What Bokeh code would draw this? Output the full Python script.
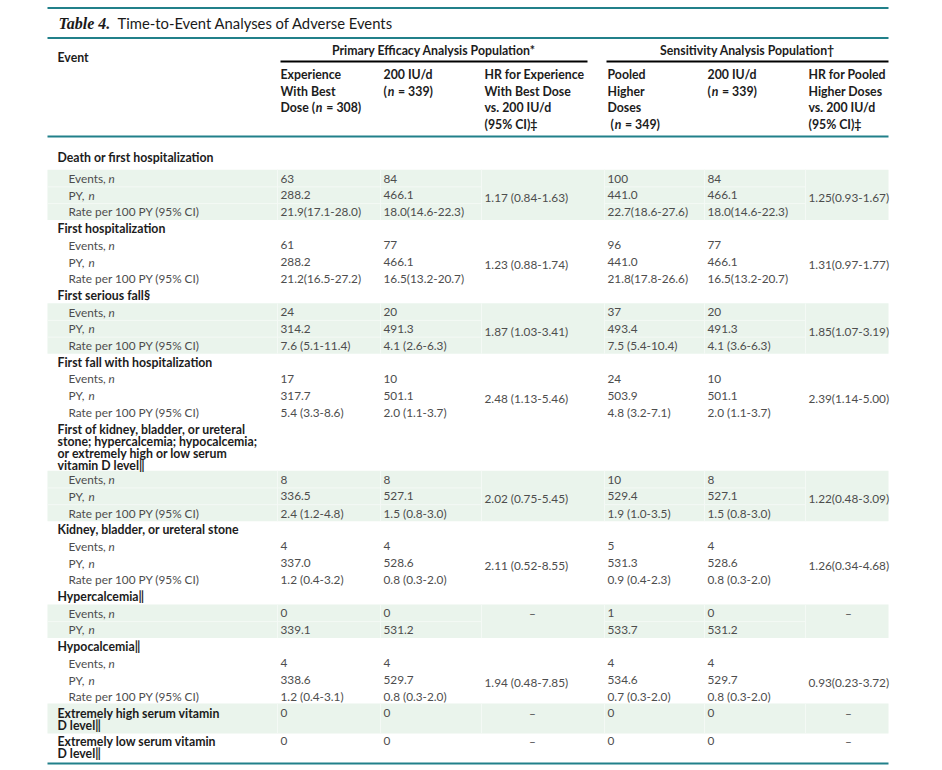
from bokeh.plotting import figure
from bokeh.models import Range1d, ColumnDataSource
from bokeh.core.properties import value
from bokeh.embed import file_html
from bokeh.resources import INLINE

# ---------------- data ----------------
title_label = "Table 4."
title_text = "Time-to-Event Analyses of Adverse Events"

event_header = "Event"
span_headers = ["Primary Efficacy Analysis Population*", "Sensitivity Analysis Population\u2020"]

group_labels = [
    ["Death or first hospitalization"],
    ["First hospitalization"],
    ["First serious fall\u00a7"],
    ["First fall with hospitalization"],
    ["First of kidney, bladder, or ureteral", "stone; hypercalcemia; hypocalcemia;",
     "or extremely high or low serum", "vitamin D level\u2016"],
    ["Kidney, bladder, or ureteral stone"],
    ["Hypercalcemia\u2016"],
    ["Hypocalcemia\u2016"],
    ["Extremely high serum vitamin", "D level\u2016"],
    ["Extremely low serum vitamin", "D level\u2016"],
]

exp_best_events = ["63", "61", "24", "17", "8", "4", "0", "4", "0", "0"]
exp_best_py = ["288.2", "288.2", "314.2", "317.7", "336.5", "337.0", "339.1", "338.6", None, None]
exp_best_rate = ["21.9(17.1-28.0)", "21.2(16.5-27.2)", "7.6 (5.1-11.4)", "5.4 (3.3-8.6)",
                 "2.4 (1.2-4.8)", "1.2 (0.4-3.2)", None, "1.2 (0.4-3.1)", None, None]

dose200_events = ["84", "77", "20", "10", "8", "4", "0", "4", "0", "0"]
dose200_py = ["466.1", "466.1", "491.3", "501.1", "527.1", "528.6", "531.2", "529.7", None, None]
dose200_rate = ["18.0(14.6-22.3)", "16.5(13.2-20.7)", "4.1 (2.6-6.3)", "2.0 (1.1-3.7)",
                "1.5 (0.8-3.0)", "0.8 (0.3-2.0)", None, "0.8 (0.3-2.0)", None, None]

hr_best = ["1.17 (0.84-1.63)", "1.23 (0.88-1.74)", "1.87 (1.03-3.41)", "2.48 (1.13-5.46)",
           "2.02 (0.75-5.45)", "2.11 (0.52-8.55)", "\u2013", "1.94 (0.48-7.85)", "\u2013", "\u2013"]

pooled_events = ["100", "96", "37", "24", "10", "5", "1", "4", "0", "0"]
pooled_py = ["441.0", "441.0", "493.4", "503.9", "529.4", "531.3", "533.7", "534.6", None, None]
pooled_rate = ["22.7(18.6-27.6)", "21.8(17.8-26.6)", "7.5 (5.4-10.4)", "4.8 (3.2-7.1)",
               "1.9 (1.0-3.5)", "0.9 (0.4-2.3)", None, "0.7 (0.3-2.0)", None, None]

sens200_events = ["84", "77", "20", "10", "8", "4", "0", "4", "0", "0"]
sens200_py = ["466.1", "466.1", "491.3", "501.1", "527.1", "528.6", "531.2", "529.7", None, None]
sens200_rate = ["18.0(14.6-22.3)", "16.5(13.2-20.7)", "4.1 (3.6-6.3)", "2.0 (1.1-3.7)",
                "1.5 (0.8-3.0)", "0.8 (0.3-2.0)", None, "0.8 (0.3-2.0)", None, None]

hr_pooled = ["1.25(0.93-1.67)", "1.31(0.97-1.77)", "1.85(1.07-3.19)", "2.39(1.14-5.00)",
             "1.22(0.48-3.09)", "1.26(0.34-4.68)", "\u2013", "0.93(0.23-3.72)", "\u2013", "\u2013"]

sub_labels = ["Events,", "PY,", "Rate per 100 PY (95% CI)"]
sub_italic = ["n", "n", None]

col_headers = [
    ["Experience", "With Best", ("Dose (", "n", "= 308)")],
    ["200 IU/d", ("(", "n", "= 339)")],
    ["HR for Experience", "With Best Dose", "vs. 200 IU/d", "(95% CI)\u2021"],
    ["Pooled", "Higher", "Doses", ("(", "n", "= 349)")],
    ["200 IU/d", ("(", "n", "= 339)")],
    ["HR for Pooled", "Higher Doses", "vs. 200 IU/d", "(95% CI)\u2021"],
]

# ---------------- style / layout ----------------
FONT = "Lato"
TEAL = "#21808a"
SHADE = "#eaf4ec"
CELL_LINE = "#f4f9f5"
DATA_COLOR = "#4d4d4d"
HEAD_COLOR = "#1c1c1c"
BODY_SIZE = "11.8px"
HEAD_SIZE = "12.3px"

W, H = 940, 768
X_LEFT, X_RIGHT = 47, 888
X_GROUP, X_SUB = 57, 68
COL_X = [280, 383, 484, 607, 707, 808]
COL_HEAD_SHIFT = [0, 0, 0, 3, 0, 0]
HR_CENTER = [532, 848]
ITALIC_OFFSET = {"Events,": 40.0, "PY,": 20.0}
HEAD_SEG_OFFSET = {"Dose (": (35.3, 45.8), "(": (4.2, 14.5)}
STEP, LINE_GAP, LINE_EXTRA = 16.7, 12.0, 11.3

p = figure(width=W, height=H, x_range=Range1d(0, W), y_range=Range1d(H, 0),
           output_backend="svg", toolbar_location=None, min_border=0)
p.axis.visible = False
p.grid.visible = False
p.outline_line_color = None
p.background_fill_color = "white"
p.border_fill_color = "white"

texts = {}


def add(x, y, t, bold=False, italic=False, color=DATA_COLOR, size=None, align="left",
        font=FONT):
    if size is None:
        size = HEAD_SIZE if bold else BODY_SIZE
    style = "bold italic" if (bold and italic) else ("bold" if bold else ("italic" if italic else "normal"))
    key = (style, color, size, align, font)
    d = texts.setdefault(key, {"x": [], "y": [], "t": []})
    d["x"].append(x)
    d["y"].append(y)
    d["t"].append(t)


# ---------------- body layout ----------------
shade_l, shade_r, shade_t, shade_b = [], [], [], []
cell_hx0, cell_hx1, cell_hy = [], [], []
cell_vx, cell_vy0, cell_vy1 = [], [], []

val_cols = [
    (exp_best_events, exp_best_py, exp_best_rate),
    (dose200_events, dose200_py, dose200_rate),
    (pooled_events, pooled_py, pooled_rate),
    (sens200_events, sens200_py, sens200_rate),
]
val_x = [COL_X[0], COL_X[1], COL_X[3], COL_X[4]]

cursor = 161.3
last_y = cursor
for g, lines in enumerate(group_labels):
    hy = cursor - 4.3 if g == 0 else cursor
    for i, ln in enumerate(lines):
        add(X_GROUP, hy + i * LINE_GAP, ln, bold=True, color=HEAD_COLOR)
    cursor += STEP + (len(lines) - 1) * LINE_EXTRA
    has_py = exp_best_py[g] is not None
    has_rate = exp_best_rate[g] is not None
    if has_py:
        nsub = 3 if has_rate else 2
        ys = []
        for k in range(nsub):
            y = cursor
            ys.append(y)
            add(X_SUB, y, sub_labels[k])
            if sub_italic[k]:
                add(X_SUB + ITALIC_OFFSET[sub_labels[k]], y, sub_italic[k], italic=True)
            for (ev, py, rt), x in zip(val_cols, val_x):
                add(x, y, [ev, py, rt][k][g])
            cursor += STEP
        if nsub == 3:
            hr_y = (ys[0] + ys[-1]) / 2 + 2.5
            add(COL_X[2], hr_y, hr_best[g])
            add(COL_X[5], hr_y, hr_pooled[g])
        else:
            add(HR_CENTER[0], ys[0], hr_best[g], align="center")
            add(HR_CENTER[1], ys[0], hr_pooled[g], align="center")
        top, bot = ys[0] - 8.8, ys[-1] + 8.2
        row_ys = ys
        last_y = ys[-1]
    else:
        for (ev, py, rt), x in zip(val_cols, val_x):
            add(x, hy, ev[g])
        add(HR_CENTER[0], hy, hr_best[g], align="center")
        add(HR_CENTER[1], hy, hr_pooled[g], align="center")
        top, bot = hy - 10, hy + (len(lines) - 1) * LINE_GAP + 8
        row_ys = [hy]
        last_y = hy + (len(lines) - 1) * LINE_GAP
    if g % 2 == 0:
        shade_l.append(X_LEFT)
        shade_r.append(X_RIGHT)
        shade_t.append(top)
        shade_b.append(bot)
        for bx in [c - 3 for c in COL_X]:
            cell_vx.append(bx)
            cell_vy0.append(top)
            cell_vy1.append(bot)
        for a, b in zip(row_ys[:-1], row_ys[1:]):
            for x0, x1 in [(X_LEFT, COL_X[2] - 3), (COL_X[3] - 3, COL_X[5] - 3)]:
                cell_hx0.append(x0)
                cell_hx1.append(x1)
                cell_hy.append((a + b) / 2)

bottom_rule = last_y + 10

p.quad(left=shade_l, right=shade_r, top=shade_t, bottom=shade_b, fill_color=SHADE,
       line_color=None)
p.segment(x0=cell_vx, y0=cell_vy0, x1=cell_vx, y1=cell_vy1, line_color=CELL_LINE, line_width=1)
p.segment(x0=cell_hx0, y0=cell_hy, x1=cell_hx1, y1=cell_hy, line_color=CELL_LINE, line_width=1)

# ---------------- header ----------------
add(58, 22.5, title_label, bold=True, italic=True, color="#1a1a1a", size="16px",
    font="Liberation Serif")
add(117, 22.5, title_text, color="#1a1a1a", size="14.8px")
add(X_GROUP, 57, event_header, bold=True, color=HEAD_COLOR)
add((COL_X[0] + 587) / 2, 50, span_headers[0], bold=True, color=HEAD_COLOR, align="center")
add((606 + X_RIGHT) / 2, 50, span_headers[1], bold=True, color=HEAD_COLOR, align="center")

head_y = [74, 90.7, 107.3, 124]
for c, lines in enumerate(col_headers):
    for i, ln in enumerate(lines):
        if isinstance(ln, tuple):
            a, n, b = ln
            o1, o2 = HEAD_SEG_OFFSET[a]
            x0 = COL_X[c] + COL_HEAD_SHIFT[c]
            add(x0, head_y[i], a, bold=True, color=HEAD_COLOR)
            add(x0 + o1, head_y[i], n, bold=True, italic=True, color=HEAD_COLOR)
            add(x0 + o2, head_y[i], b, bold=True, color=HEAD_COLOR)
        else:
            add(COL_X[c], head_y[i], ln, bold=True, color=HEAD_COLOR)

# rules
p.segment(x0=[X_LEFT] * 4, x1=[X_RIGHT] * 4, y0=[7.5, 37.5, 136, bottom_rule],
          y1=[7.5, 37.5, 136, bottom_rule], line_color=TEAL, line_width=2)
p.segment(x0=[COL_X[0], 606], x1=[587, X_RIGHT], y0=[61, 61], y1=[61, 61],
          line_color="black", line_width=2)

for (style, color, size, align, font), d in texts.items():
    src = ColumnDataSource(dict(x=d["x"], y=d["y"], t=d["t"]))
    p.text(x="x", y="y", text="t", source=src, text_font=value(font), text_font_style=style,
           text_color=color, text_font_size=size, text_align=align, text_baseline="middle")

open("out.html", "w").write(file_html(p, INLINE))
